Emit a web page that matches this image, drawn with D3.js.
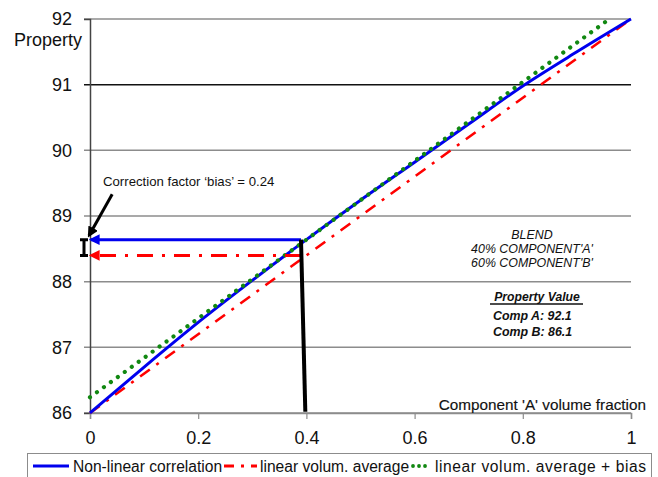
<!DOCTYPE html>
<html>
<head>
<meta charset="utf-8">
<script src="https://cdn.jsdelivr.net/npm/d3@7"></script>
<style>
    body { margin: 0; background: #fff; }
    svg { display: block; font-family: Arial, "Liberation Sans", sans-serif; }
</style>
</head>
<body>
<div class="chart"></div>
<script>
// blend fraction of component A and the property values
const fraction = [0, 0.1, 0.2, 0.3, 0.4, 0.5, 0.6, 0.7, 0.8, 0.9, 1];
const nonLinear = [86, 86.7, 87.38, 88.02, 88.64, 89.24, 89.82, 90.4, 90.98, 91.5, 92];
const linearX = [0, 1];
const linearY = [86, 92];
const biasX = [0, 0.96];
const biasY = [86.24, 92];
const yTicks = [86, 87, 88, 89, 90, 91, 92];
const xTicks = [0, 0.2, 0.4, 0.6, 0.8, 1];
const legendLabels = ["Non-linear correlation", "linear volum. average", "linear volum. average + bias"];
const blendLines = ["BLEND", "40% COMPONENT'A'", "60% COMPONENT'B'"];
const propLines = ["Comp A: 92.1", "Comp B: 86.1"];
const blendX = 0.39;          // where the blend is read
const blendNonLinear = 88.64;
const blendLinear = 88.4;

const width = 658;
const height = 477;
const x = d3.scaleLinear().domain([0, 1]).range([90, 631]);
const y = d3.scaleLinear().domain([86, 92]).range([413, 19]);

const svg = d3.select(".chart").append("svg")
    .attr("width", width)
    .attr("height", height);

const defs = svg.append("defs");
[["arrowBlue", "#0000ee"], ["arrowRed", "#ff0000"], ["arrowBlack", "#000"]].forEach((m) => {
    defs.append("marker")
        .attr("id", m[0])
        .attr("viewBox", "0 0 10 10")
        .attr("refX", 8)
        .attr("refY", 5)
        .attr("markerWidth", 3.6)
        .attr("markerHeight", 3.6)
        .attr("orient", "auto")
        .append("path")
        .attr("d", "M0,0L10,5L0,10z")
        .attr("fill", m[1]);
});

// grid lines
svg.append("g")
    .selectAll("line")
    .data(yTicks)
    .enter()
    .append("line")
    .attr("x1", x(0) - 6)
    .attr("x2", x(1))
    .attr("y1", (d) => y(d))
    .attr("y2", (d) => y(d))
    .attr("stroke", (d) => d === 91 ? "#111" : "#8c8c8c")
    .attr("stroke-width", 1.5);

// y axis
const yAxis = svg.append("g")
    .attr("transform", `translate(${x(0)},0)`)
    .call(d3.axisLeft(y).tickValues(yTicks).tickFormat(d3.format("d")).tickSize(6).tickPadding(12));
yAxis.select(".domain").attr("stroke", "#444").attr("stroke-width", 1.5);
yAxis.selectAll(".tick line").attr("stroke", "none");
yAxis.selectAll("text").attr("font-size", 18).attr("fill", "#111").attr("font-family", null);

// x axis
const xAxis = svg.append("g")
    .attr("transform", `translate(0,${y(86)})`)
    .call(d3.axisBottom(x).tickValues(xTicks).tickFormat((d) => d === 0 || d === 1 ? d : d.toFixed(1)).tickSize(6).tickPadding(12));
xAxis.select(".domain").attr("stroke", "#8c8c8c").attr("stroke-width", 1.5);
xAxis.selectAll(".tick line").attr("stroke", "#8c8c8c").attr("stroke-width", 1.2);
xAxis.selectAll("text").attr("font-size", 18).attr("fill", "#111").attr("font-family", null);

svg.append("text")
    .attr("x", 82)
    .attr("y", 46)
    .attr("text-anchor", "end")
    .attr("font-size", 18)
    .attr("fill", "#111")
    .text("Property");

svg.append("text")
    .attr("x", 646)
    .attr("y", 410)
    .attr("text-anchor", "end")
    .attr("font-size", 15.3)
    .attr("fill", "#111")
    .attr("stroke", "#111")
    .attr("stroke-width", 0.15)
    .text("Component 'A' volume fraction");

// series
const line = d3.line()
    .x((d) => x(d[0]))
    .y((d) => y(d[1]));

svg.append("path")
    .attr("d", line(d3.zip(linearX, linearY)))
    .attr("fill", "none")
    .attr("stroke", "#ff0000")
    .attr("stroke-width", 2.6)
    .attr("stroke-dasharray", "12,8,3,8");

svg.append("path")
    .attr("d", line.curve(d3.curveMonotoneX)(d3.zip(fraction, nonLinear)))
    .attr("fill", "none")
    .attr("stroke", "#0000ee")
    .attr("stroke-width", 3);
line.curve(d3.curveLinear);

svg.append("path")
    .attr("d", line(d3.zip(biasX, biasY)))
    .attr("fill", "none")
    .attr("stroke", "#118811")
    .attr("stroke-width", 4.2)
    .attr("stroke-linecap", "round")
    .attr("stroke-dasharray", "0.01,8.6");

// read-off arrows at the blend
svg.append("line")
    .attr("x1", x(blendX)).attr("y1", y(blendNonLinear))
    .attr("x2", x(0) + 1).attr("y2", y(blendNonLinear))
    .attr("stroke", "#0000ee")
    .attr("stroke-width", 3)
    .attr("marker-end", "url(#arrowBlue)");

svg.append("line")
    .attr("x1", x(blendX)).attr("y1", y(blendLinear))
    .attr("x2", x(0) + 1).attr("y2", y(blendLinear))
    .attr("stroke", "#ff0000")
    .attr("stroke-width", 3)
    .attr("stroke-dasharray", "16,9,3,9")
    .attr("marker-end", "url(#arrowRed)");

svg.append("line")
    .attr("x1", x(blendX)).attr("y1", y(blendNonLinear))
    .attr("x2", x(0.398)).attr("y2", y(86.02))
    .attr("stroke", "#000")
    .attr("stroke-width", 4);

// bias bracket
const bx = x(0) - 6;
svg.append("path")
    .attr("d", `M${bx - 4},${y(blendNonLinear)}H${bx + 4}M${bx},${y(blendNonLinear)}V${y(blendLinear)}M${bx - 4},${y(blendLinear)}H${bx + 4}`)
    .attr("fill", "none")
    .attr("stroke", "#000")
    .attr("stroke-width", 3);

svg.append("line")
    .attr("x1", x(0.041)).attr("y1", y(89.33))
    .attr("x2", x(-0.002)).attr("y2", y(88.7))
    .attr("stroke", "#000")
    .attr("stroke-width", 3)
    .attr("marker-end", "url(#arrowBlack)");

svg.append("text")
    .attr("x", 103)
    .attr("y", 186)
    .attr("font-size", 13.2)
    .attr("fill", "#111")
    .text("Correction factor \u2018bias\u2019 = 0.24");

// blend notes
svg.append("g")
    .selectAll("text")
    .data(blendLines)
    .enter()
    .append("text")
    .attr("x", 532)
    .attr("y", (d, i) => 239 + i * 14)
    .attr("text-anchor", "middle")
    .attr("font-size", 12.4)
    .attr("font-style", "italic")
    .attr("fill", "#111")
    .text((d) => d);

svg.append("text")
    .attr("x", 537)
    .attr("y", 301)
    .attr("text-anchor", "middle")
    .attr("font-size", 12.2)
    .attr("font-style", "italic")
    .attr("font-weight", "bold")
    .attr("fill", "#111")
    .text("Property Value");
svg.append("line")
    .attr("x1", 490).attr("x2", 583)
    .attr("y1", 304).attr("y2", 304)
    .attr("stroke", "#111")
    .attr("stroke-width", 1.5);

svg.append("g")
    .selectAll("text")
    .data(propLines)
    .enter()
    .append("text")
    .attr("x", 493)
    .attr("y", (d, i) => 320 + i * 16)
    .attr("font-size", 12.4)
    .attr("font-style", "italic")
    .attr("font-weight", "bold")
    .attr("fill", "#111")
    .text((d) => d);

// legend
const legend = svg.append("g");
legend.append("rect")
    .attr("x", 27.5)
    .attr("y", 453.5)
    .attr("width", 624)
    .attr("height", 30)
    .attr("fill", "#fff")
    .attr("stroke", "#8c8c8c");

const legendSamples = [
    {x1: 33, x2: 69, stroke: "#0000ee", width: 3, dash: null, cap: "butt", text: 73, len: null},
    {x1: 224, x2: 257, stroke: "#ff0000", width: 3, dash: "10,7,3,7", cap: "butt", text: 260, len: null},
    {x1: 413, x2: 431, stroke: "#118811", width: 3.8, dash: "0.01,6", cap: "round", text: 435, len: 211}
];
legendSamples.forEach((s, i) => {
    legend.append("line")
        .attr("x1", s.x1).attr("x2", s.x2)
        .attr("y1", 466).attr("y2", 466)
        .attr("stroke", s.stroke)
        .attr("stroke-width", s.width)
        .attr("stroke-linecap", s.cap)
        .attr("stroke-dasharray", s.dash);
    const t = legend.append("text")
        .attr("x", s.text)
        .attr("y", 471.5)
        .attr("font-size", 15.6)
        .attr("fill", "#111")
        .text(legendLabels[i]);
    if (s.len) {
        t.attr("textLength", s.len).attr("lengthAdjust", "spacing");
    }
});
</script>
</body>
</html>
